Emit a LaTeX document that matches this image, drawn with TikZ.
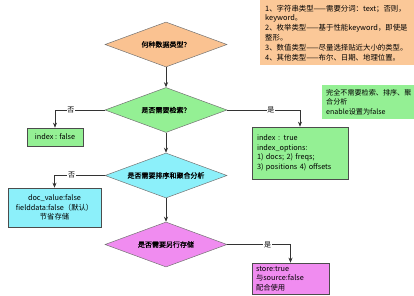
\documentclass[tikz,border=0pt]{standalone}
\usepackage{fontspec}
\setmainfont{Noto Sans CJK SC}
\newfontfamily\diafont[FakeBold=1]{Noto Sans CJK SC}
\usetikzlibrary{shapes.geometric,arrows.meta}
\definecolor{corange}{HTML}{FAC291}
\definecolor{cnote}{HTML}{FBC898}
\definecolor{cgreen}{HTML}{94F094}
\definecolor{ccyan}{HTML}{8CF0FA}
\definecolor{cpink}{HTML}{F08CF0}
\definecolor{cline}{HTML}{333333}
\tikzset{
  dia/.style={diamond, draw=black!55, line width=0.5pt, minimum width=122pt, minimum height=45pt, inner sep=0pt, aspect=2.7, font=\diafont\fontsize{7}{8}\selectfont},
  box/.style={rectangle, draw=black!70, line width=0.6pt, inner sep=0pt, font=\fontsize{7.3}{9.5}\selectfont},
  note/.style={rectangle, inner sep=0pt, font=\fontsize{7.4}{9.8}\selectfont, align=left, anchor=north west},
  arr/.style={draw=cline, line width=0.6pt, -{Stealth[length=5pt,width=4pt]}},
  lab/.style={fill=white, inner sep=0.8pt, font=\fontsize{7}{8}\selectfont}
}
\begin{document}
\begin{tikzpicture}[x=1pt,y=-1pt]
\useasboundingbox (0,0) rectangle (414,296);
\clip (0,0) rectangle (414,296);
% notes
\node[note, fill=cnote, minimum width=160pt, minimum height=65pt, text width=150pt, inner xsep=5pt] (n1) at (260,0)
  {1、字符串类型——需要分词：text；否则，\\keyword。\\2、枚举类型——基于性能keyword，即使是\\整形。\\3、数值类型——尽量选择贴近大小的类型。\\4、其他类型——布尔、日期、地理位置。};
\node[note, fill=cgreen, minimum width=100pt, minimum height=34pt, text width=92pt, inner xsep=3.5pt, font=\fontsize{7.1}{9.6}\selectfont] (n2) at (322,85)
  {完全不需要检索、排序、聚\\合分析\\enable设置为false};
% diamonds
\node[dia, fill=corange] (d1) at (166,44.5) {何种数据类型？};
\node[dia, fill=cgreen] (d2) at (166,110) {是否需要检索？};
\node[dia, fill=ccyan] (d3) at (166,175.5) {是否需要排序和聚合分析};
\node[dia, fill=cpink] (d4) at (166,244.5) {是否需要另行存储};
% boxes
\node[box, fill=cgreen, minimum width=56pt, minimum height=18pt] (b1) at (55,137) {index : false};
\node[box, fill=cgreen, minimum width=96pt, minimum height=52pt, text width=86pt, align=left] (b2) at (300,153)
  {index : true\\index\_options:\\1) docs; 2) freqs;\\3) positions 4) offsets};
\node[box, fill=ccyan, minimum width=93pt, minimum height=39pt, align=center] (b3) at (54.5,207.5)
  {doc\_value:false\\fielddata:false（默认）\\节省存储};
\node[box, fill=cpink, minimum width=77pt, minimum height=31pt, text width=69pt, align=left] (b4) at (290.5,278.5)
  {store:true\\与source:false\\配合使用};
% connectors
\draw[arr] (d1.south) -- (d2.north);
\draw[arr] (d2.south) -- (d3.north);
\draw[arr] (d3.south) -- (d4.north);
\draw[arr] (d2.west) -| node[lab, pos=0.34] {否} (b1.north);
\draw[arr] (d2.east) -| node[lab, pos=0.3] {是} (b2.north);
\draw[arr] (d3.west) -| node[lab, pos=0.33] {否} (b3.north);
\draw[arr] (d4.east) -| node[lab, pos=0.32] {是} (b4.north);
\end{tikzpicture}
\end{document}
